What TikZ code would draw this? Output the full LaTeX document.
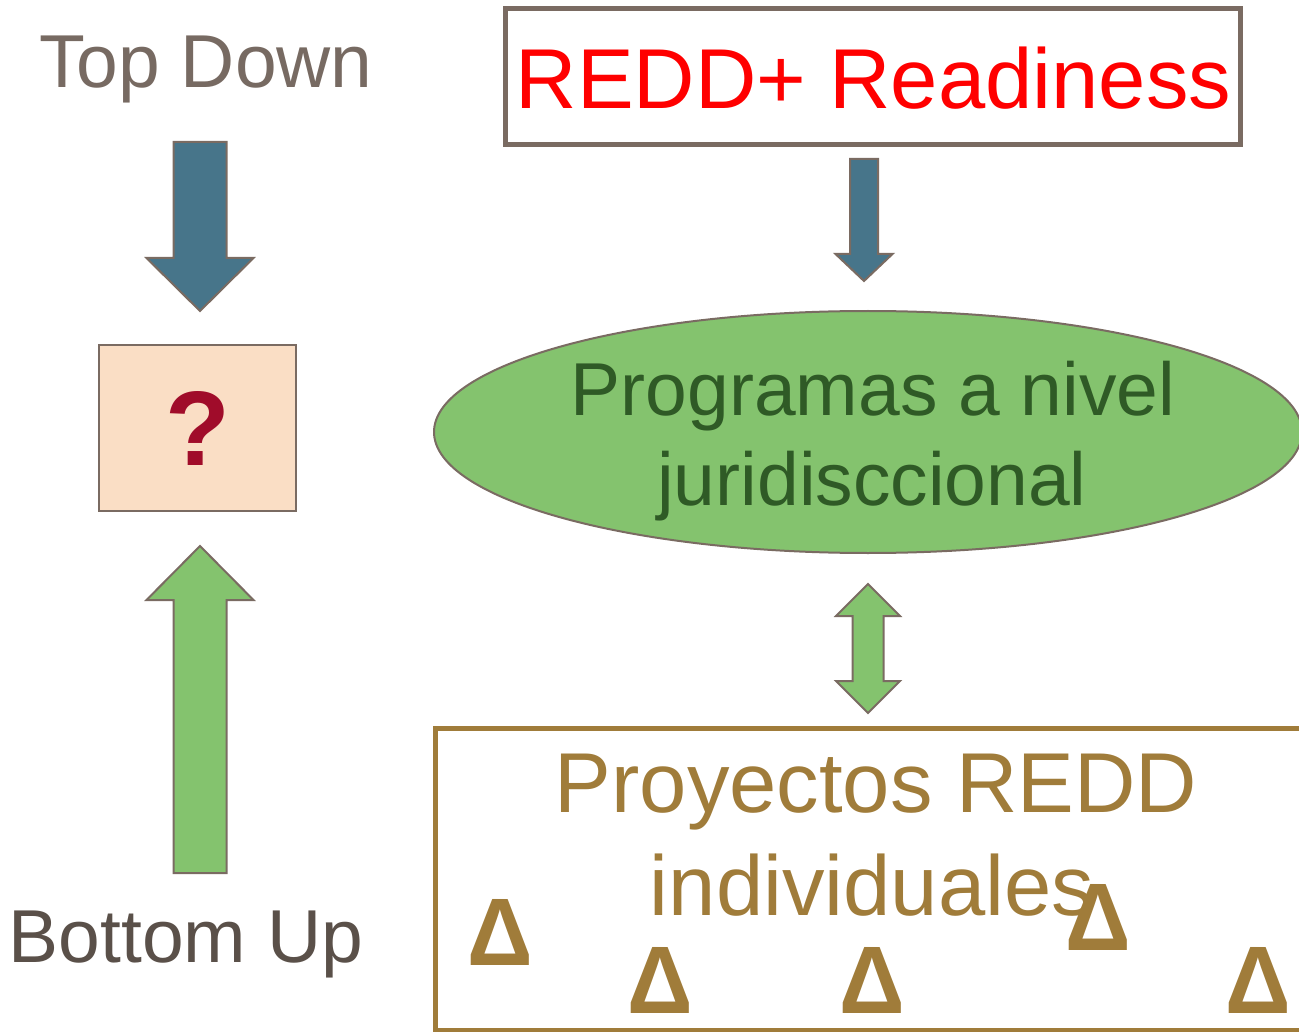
\documentclass[tikz,border=0pt]{standalone}
\usepackage{fontspec}
\setmainfont{Liberation Sans}
\usepackage{xcolor}
\usetikzlibrary{calc,shapes.geometric}

\definecolor{labelgrey}{HTML}{776A62}
\definecolor{labeldark}{HTML}{5A5049}
\definecolor{edgegrey}{HTML}{7A6B62}
\definecolor{arrowblue}{HTML}{47758A}
\definecolor{leafgreen}{HTML}{84C36E}
\definecolor{peach}{HTML}{FADEC5}
\definecolor{wine}{HTML}{A00C2A}
\definecolor{darkgreen}{HTML}{2F5A26}
\definecolor{ochre}{HTML}{A07C3A}

\begin{document}
\begin{tikzpicture}[x=1pt,y=-1pt,inner sep=0pt,
  bigtext/.style={font=\fontsize{75}{90}\selectfont},
  blockblue/.style={draw=edgegrey,line width=2pt,fill=arrowblue},
  blockgreen/.style={draw=edgegrey,line width=2pt,fill=leafgreen}]
\useasboundingbox (0,0) rectangle (1299,1032);
\clip (0,0) rectangle (1299,1032);

% left column
\node[bigtext,text=labelgrey,anchor=base] (topdown) at (206,88) {Top Down};
\node[draw=edgegrey,line width=1.5pt,fill=peach,minimum width=197,minimum height=166,
      font=\fontsize{106}{106}\selectfont\bfseries,text=wine] (qbox) at (197.5,428) {?};
\node[bigtext,text=labeldark,anchor=base] (bottomup) at (186,962) {Bottom Up};

\coordinate (tdS) at (200,142);
\coordinate (tdE) at (200,311);
\draw[blockblue] ($(tdS)+(-26.5,0)$) -- ($(tdS)+(26.5,0)$) -- ($(tdE)+(26.5,-53)$)
  -- ($(tdE)+(53.5,-53)$) -- (tdE) -- ($(tdE)+(-53.5,-53)$) -- ($(tdE)+(-26.5,-53)$) -- cycle;

\coordinate (buS) at (200,873);
\coordinate (buE) at (200,546);
\draw[blockgreen] ($(buS)+(-26.5,0)$) -- ($(buS)+(26.5,0)$) -- ($(buE)+(26.5,54)$)
  -- ($(buE)+(53.5,54)$) -- (buE) -- ($(buE)+(-53.5,54)$) -- ($(buE)+(-26.5,54)$) -- cycle;

% right column
\node[draw=edgegrey,line width=5pt,minimum width=735,minimum height=136] (readiness) at (872.5,77) {};
\node[font=\fontsize{85}{100}\selectfont,text=red,anchor=base] (readtxt) at (873.5,109) {REDD+ Readiness};

\node[ellipse,draw=edgegrey,line width=2pt,fill=leafgreen,minimum width=868,minimum height=242] (prog) at (868,432) {};
\node[bigtext,text=darkgreen,anchor=base] (progA) at (873,415) {Programas a nivel};
\node[bigtext,text=darkgreen,anchor=base] (progB) at (872,505) {juridisccional};

\node[draw=ochre,line width=5pt,minimum width=880,minimum height=302] (proy) at (875,879) {};
\node[font=\fontsize{85}{101}\selectfont,text=ochre,anchor=base] (proyA) at (876,812) {Proyectos REDD};
\node[font=\fontsize{85}{101}\selectfont,text=ochre,anchor=base] (proyB) at (872,915) {individuales};

\coordinate (rdS) at (864,159);
\coordinate (rdE) at (864,281);
\draw[blockblue] ($(rdS)+(-14,0)$) -- ($(rdS)+(14,0)$) -- ($(rdE)+(14,-27)$)
  -- ($(rdE)+(28.5,-27)$) -- (rdE) -- ($(rdE)+(-28.5,-27)$) -- ($(rdE)+(-14,-27)$) -- cycle;

\coordinate (dbT) at (868,584);
\coordinate (dbB) at (868,713);
\draw[blockgreen] (dbT) -- ($(dbT)+(32,32)$) -- ($(dbT)+(15.5,32)$) -- ($(dbB)+(15.5,-32)$)
  -- ($(dbB)+(32,-32)$) -- (dbB) -- ($(dbB)+(-32,-32)$) -- ($(dbB)+(-15.5,-32)$)
  -- ($(dbT)+(-15.5,32)$) -- ($(dbT)+(-32,32)$) -- cycle;

% the projects
\foreach \px/\py [count=\i] in {500/965,660/1013,872.5/1013,1098/950,1258/1013}
  \node[font=\fontsize{96}{96}\selectfont\bfseries,text=ochre,anchor=base,xscale=0.95] (delta\i) at (\px,\py) {Δ};

\end{tikzpicture}
\end{document}
